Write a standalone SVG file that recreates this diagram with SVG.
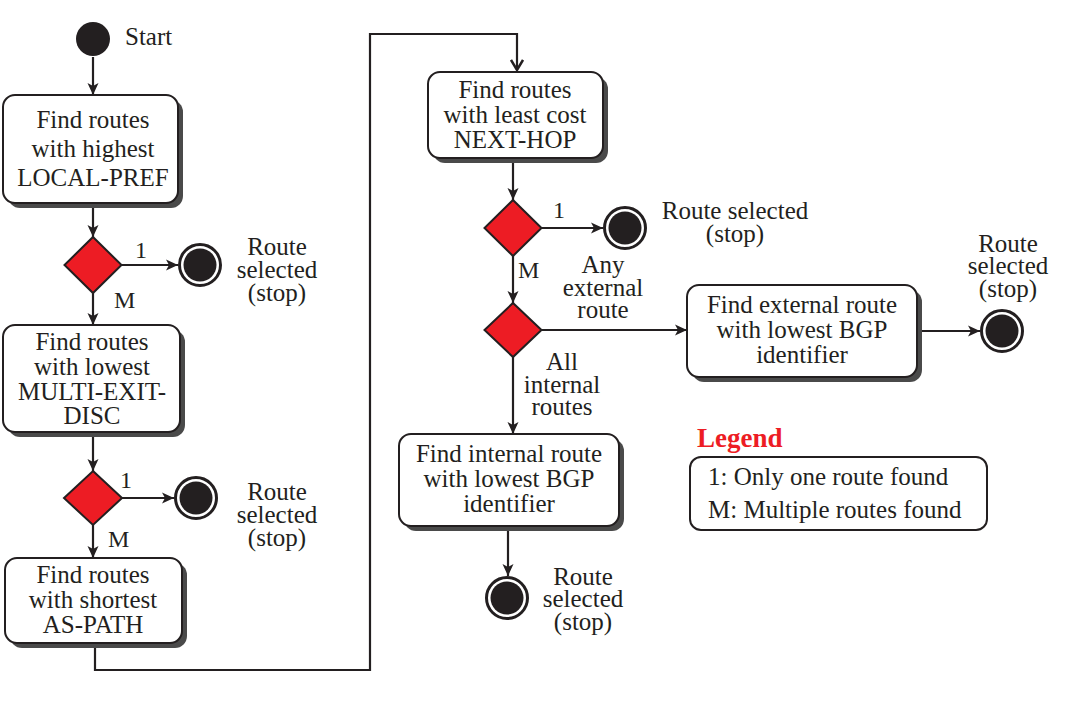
<svg xmlns="http://www.w3.org/2000/svg" width="1071" height="711" viewBox="0 0 1071 711">
<defs>
<marker id="arr" markerUnits="userSpaceOnUse" viewBox="0 0 12 12" markerWidth="12" markerHeight="12" refX="12" refY="6" orient="auto">
<path d="M0,0.5 L12,6 L0,11.5 L3,6 z" fill="#231f20"/>
</marker>
<marker id="open" markerUnits="userSpaceOnUse" viewBox="0 0 14 14" markerWidth="14" markerHeight="14" refX="12" refY="7" orient="auto">
<path d="M2,1 L12,7 L2,13" fill="none" stroke="#231f20" stroke-width="2.5"/>
</marker>
</defs>
<style>
text{font-family:"Liberation Serif","Times New Roman",serif;font-size:25px;fill:#231f20}
.c{text-anchor:middle}
.lbl{font-size:24px}
.box{fill:#fff;stroke:#231f20;stroke-width:2}
.sh{fill:#4a4a4a}
.dia{fill:#ed1c24;stroke:#231f20;stroke-width:2}
.con{fill:none;stroke:#231f20;stroke-width:2.2}
.ring{fill:#fff;stroke:#231f20;stroke-width:3}
.dot{fill:#231f20}
.leg{fill:#ed1c24;font-weight:bold;font-size:27px}
</style>
<rect width="1071" height="711" fill="#fff"/>

<g id="connectors">
<path class="con" d="M93,57 V95" marker-end="url(#arr)"/>
<path class="con" d="M93,203 V237" marker-end="url(#arr)"/>
<path class="con" d="M121.5,265 H178" marker-end="url(#arr)"/>
<path class="con" d="M93,293 V325" marker-end="url(#arr)"/>
<path class="con" d="M93,432 V471" marker-end="url(#arr)"/>
<path class="con" d="M122,498 H174" marker-end="url(#arr)"/>
<path class="con" d="M93,525 V558" marker-end="url(#arr)"/>
<path class="con" d="M95,643 V670 H370 V34 H517 V70" stroke-width="2.5" marker-end="url(#open)"/>
<path class="con" d="M513,158 V200" marker-end="url(#arr)"/>
<path class="con" d="M541.5,228 H603" marker-end="url(#arr)"/>
<path class="con" d="M513,256 V303" marker-end="url(#arr)"/>
<path class="con" d="M541.5,330 H687" marker-end="url(#arr)"/>
<path class="con" d="M917,331 H980" marker-end="url(#arr)"/>
<path class="con" d="M513,357 V434" marker-end="url(#arr)"/>
<path class="con" d="M508,526 V576" marker-end="url(#arr)"/>
</g>

<g id="start">
<circle class="dot" cx="93" cy="39" r="17"/>
<text x="125" y="45">Start</text>
</g>

<g id="box1">
<rect class="sh" x="8" y="100" width="175" height="108" rx="12"/>
<rect class="box" x="3" y="95" width="175" height="108" rx="12"/>
<text class="c"><tspan x="93" y="128">Find routes</tspan><tspan x="93" y="157">with highest</tspan><tspan x="93" y="186">LOCAL-PREF</tspan></text>
</g>

<g id="dec1">
<polygon class="dia" points="93,237 121.5,265 93,293 64.5,265"/>
<text class="lbl" x="135" y="258">1</text>
<text class="lbl" x="114" y="308">M</text>
</g>

<g id="end1">
<circle class="ring" cx="200" cy="265" r="20.5"/>
<circle class="dot" cx="200" cy="265" r="16.5"/>
<text class="c"><tspan x="277" y="255">Route</tspan><tspan x="277" y="278">selected</tspan><tspan x="277" y="301">(stop)</tspan></text>
</g>

<g id="box2">
<rect class="sh" x="8" y="330" width="177" height="107" rx="12"/>
<rect class="box" x="3" y="325" width="177" height="107" rx="12"/>
<text class="c"><tspan x="92" y="350">Find routes</tspan><tspan x="92" y="375">with lowest</tspan><tspan x="92" y="400">MULTI-EXIT-</tspan><tspan x="92" y="424">DISC</tspan></text>
</g>

<g id="dec2">
<polygon class="dia" points="93,471 122,498 93,525 64,498"/>
<text class="lbl" x="120" y="488">1</text>
<text class="lbl" x="108" y="547">M</text>
</g>

<g id="end2">
<circle class="ring" cx="196" cy="498" r="20.5"/>
<circle class="dot" cx="196" cy="498" r="16.5"/>
<text class="c"><tspan x="277" y="500">Route</tspan><tspan x="277" y="523">selected</tspan><tspan x="277" y="546">(stop)</tspan></text>
</g>

<g id="box3">
<rect class="sh" x="10" y="563" width="177" height="85" rx="12"/>
<rect class="box" x="5" y="558" width="177" height="85" rx="12"/>
<text class="c"><tspan x="93" y="583">Find routes</tspan><tspan x="93" y="608">with shortest</tspan><tspan x="93" y="633">AS-PATH</tspan></text>
</g>

<g id="box4">
<rect class="sh" x="433" y="77" width="175" height="86" rx="12"/>
<rect class="box" x="428" y="72" width="175" height="86" rx="12"/>
<text class="c"><tspan x="515" y="98">Find routes</tspan><tspan x="515" y="123">with least cost</tspan><tspan x="515" y="148">NEXT-HOP</tspan></text>
</g>

<g id="dec3">
<polygon class="dia" points="513,200 541.5,228 513,256 484.5,228"/>
<text class="lbl" x="553" y="218">1</text>
<text class="lbl" x="518" y="278">M</text>
</g>

<g id="end3">
<circle class="ring" cx="625" cy="228" r="20.5"/>
<circle class="dot" cx="625" cy="228" r="16.5"/>
<text class="c"><tspan x="735" y="219">Route selected</tspan><tspan x="735" y="242">(stop)</tspan></text>
</g>

<g id="dec4">
<polygon class="dia" points="513,303 541.5,330 513,357 484.5,330"/>
<text class="c"><tspan x="603" y="273">Any</tspan><tspan x="603" y="296">external</tspan><tspan x="603" y="318">route</tspan></text>
<text class="c"><tspan x="562" y="370">All</tspan><tspan x="562" y="393">internal</tspan><tspan x="562" y="415">routes</tspan></text>
</g>

<g id="box5">
<rect class="sh" x="692" y="290" width="230" height="92" rx="12"/>
<rect class="box" x="687" y="285" width="230" height="92" rx="12"/>
<text class="c"><tspan x="802" y="313">Find external route</tspan><tspan x="802" y="338">with lowest BGP</tspan><tspan x="802" y="363">identifier</tspan></text>
</g>

<g id="end4">
<circle class="ring" cx="1002" cy="331" r="20.5"/>
<circle class="dot" cx="1002" cy="331" r="16.5"/>
<text class="c"><tspan x="1008" y="252">Route</tspan><tspan x="1008" y="274">selected</tspan><tspan x="1008" y="297">(stop)</tspan></text>
</g>

<g id="box6">
<rect class="sh" x="404" y="439" width="220" height="92" rx="12"/>
<rect class="box" x="399" y="434" width="220" height="92" rx="12"/>
<text class="c"><tspan x="509" y="462">Find internal route</tspan><tspan x="509" y="487">with lowest BGP</tspan><tspan x="509" y="512">identifier</tspan></text>
</g>

<g id="end5">
<circle class="ring" cx="507" cy="598" r="20.5"/>
<circle class="dot" cx="507" cy="598" r="16.5"/>
<text class="c"><tspan x="583" y="585">Route</tspan><tspan x="583" y="607">selected</tspan><tspan x="583" y="630">(stop)</tspan></text>
</g>

<g id="legend">
<text class="leg" x="697" y="447">Legend</text>
<rect class="box" x="690" y="457" width="297" height="73" rx="11"/>
<text x="708" y="485">1: Only one route found</text>
<text x="708" y="518">M: Multiple routes found</text>
</g>
</svg>
